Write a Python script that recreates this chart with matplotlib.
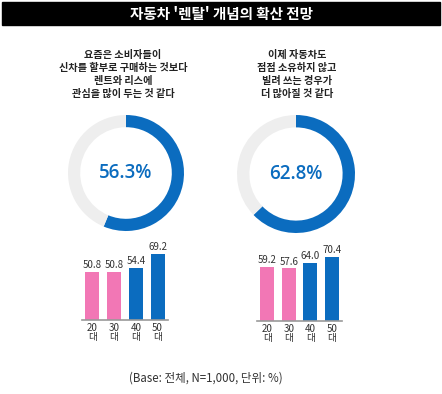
import numpy as np
import matplotlib
matplotlib.use('Agg')
import matplotlib.pyplot as plt
from matplotlib.patches import Rectangle

plt.rcParams['font.family'] = ['Noto Sans CJK KR', 'DejaVu Sans']

W, H = 442, 394

title = "자동차 '렌탈' 개념의 확산 전망"
questions = ["요즘은 소비자들이\n신차를 할부로 구매하는 것보다\n렌트와 리스에\n관심을 많이 두는 것 같다",
             "이제 자동차도\n점점 소유하지 않고\n빌려 쓰는 경우가\n더 많아질 것 같다"]
totals = [56.3, 62.8]
ages = ['20\n대', '30\n대', '40\n대', '50\n대']
left_vals = [50.8, 50.8, 54.4, 69.2]
right_vals = [59.2, 57.6, 64.0, 70.4]
note = '(Base: 전체, N=1,000, 단위: %)'

BLUE = '#0b6cbf'
PINK = '#f277b5'
GRAY = '#eeeeee'
bar_colors = [PINK, PINK, BLUE, BLUE]


def px_axes(fig, x0, y0, x1, y1):
    # pixel box (top-left origin) -> figure axes
    return fig.add_axes([x0 / W, 1 - y1 / H, (x1 - x0) / W, (y1 - y0) / H])


fig = plt.figure(figsize=(W / 100, H / 100), dpi=100)

# title bar
fig.patches.append(Rectangle((2 / W, 1 - 25 / H), 438 / W, 23 / H,
                             transform=fig.transFigure, color='black', zorder=0))
fig.text(221 / W, 1 - 13.5 / H, title, color='white', fontsize=10.5,
         fontweight='bold', ha='center', va='center')

# question texts
fig.text(123 / W, 1 - 74.5 / H, questions[0], fontsize=7.3, fontweight='bold',
         ha='center', va='center', linespacing=1.4, color='#222222')
fig.text(297 / W, 1 - 74.5 / H, questions[1], fontsize=7.3, fontweight='bold',
         ha='center', va='center', linespacing=1.4, color='#222222')

# donuts
for (cx, cy, r), val in zip([(126, 173, 58), (296, 174, 59)], totals):
    ax = px_axes(fig, cx - r, cy - r, cx + r, cy + r)
    ax.pie([val, 100 - val], colors=[BLUE, GRAY], startangle=90,
           counterclock=False, radius=1, wedgeprops=dict(width=0.21, linewidth=0))
    ax.set_xlim(-1, 1)
    ax.set_ylim(-1, 1)
    ax.set_aspect('auto')
    ax.axis('off')
    ax.text(0, 0, f'{val}%', color=BLUE, fontsize=13.5, ha='center', va='center',
            family=['Open Sans', 'DejaVu Sans'], fontweight='semibold')

# bar charts
for (x0, x1, base, top), vals in zip([(82, 168, 320, 244), (257, 342, 321, 248)],
                                     [left_vals, right_vals]):
    ax = px_axes(fig, x0, top, x1, base)
    xs = np.arange(len(vals))
    ax.bar(xs, vals, width=0.64, color=bar_colors)
    for x, v in zip(xs, vals):
        ax.text(x, v + 2, f'{v:.1f}', ha='center', va='bottom', fontsize=7,
                color='#333333')
    ax.set_xlim(-0.48, 3.48)
    ax.set_ylim(0, 80)
    ax.set_xticks(xs)
    ax.set_xticklabels(ages, fontsize=7, linespacing=0.95, color='#333333')
    ax.tick_params(axis='x', length=0, pad=2)
    ax.set_yticks([])
    for s in ['top', 'left', 'right']:
        ax.spines[s].set_visible(False)
    ax.spines['bottom'].set_color('#999999')
    ax.spines['bottom'].set_linewidth(1.2)
    ax.patch.set_alpha(0)

fig.text(206 / W, 1 - 378 / H, note, fontsize=8.3, ha='center', va='center',
         color='#333333')

fig.savefig('out.png', dpi=100)
